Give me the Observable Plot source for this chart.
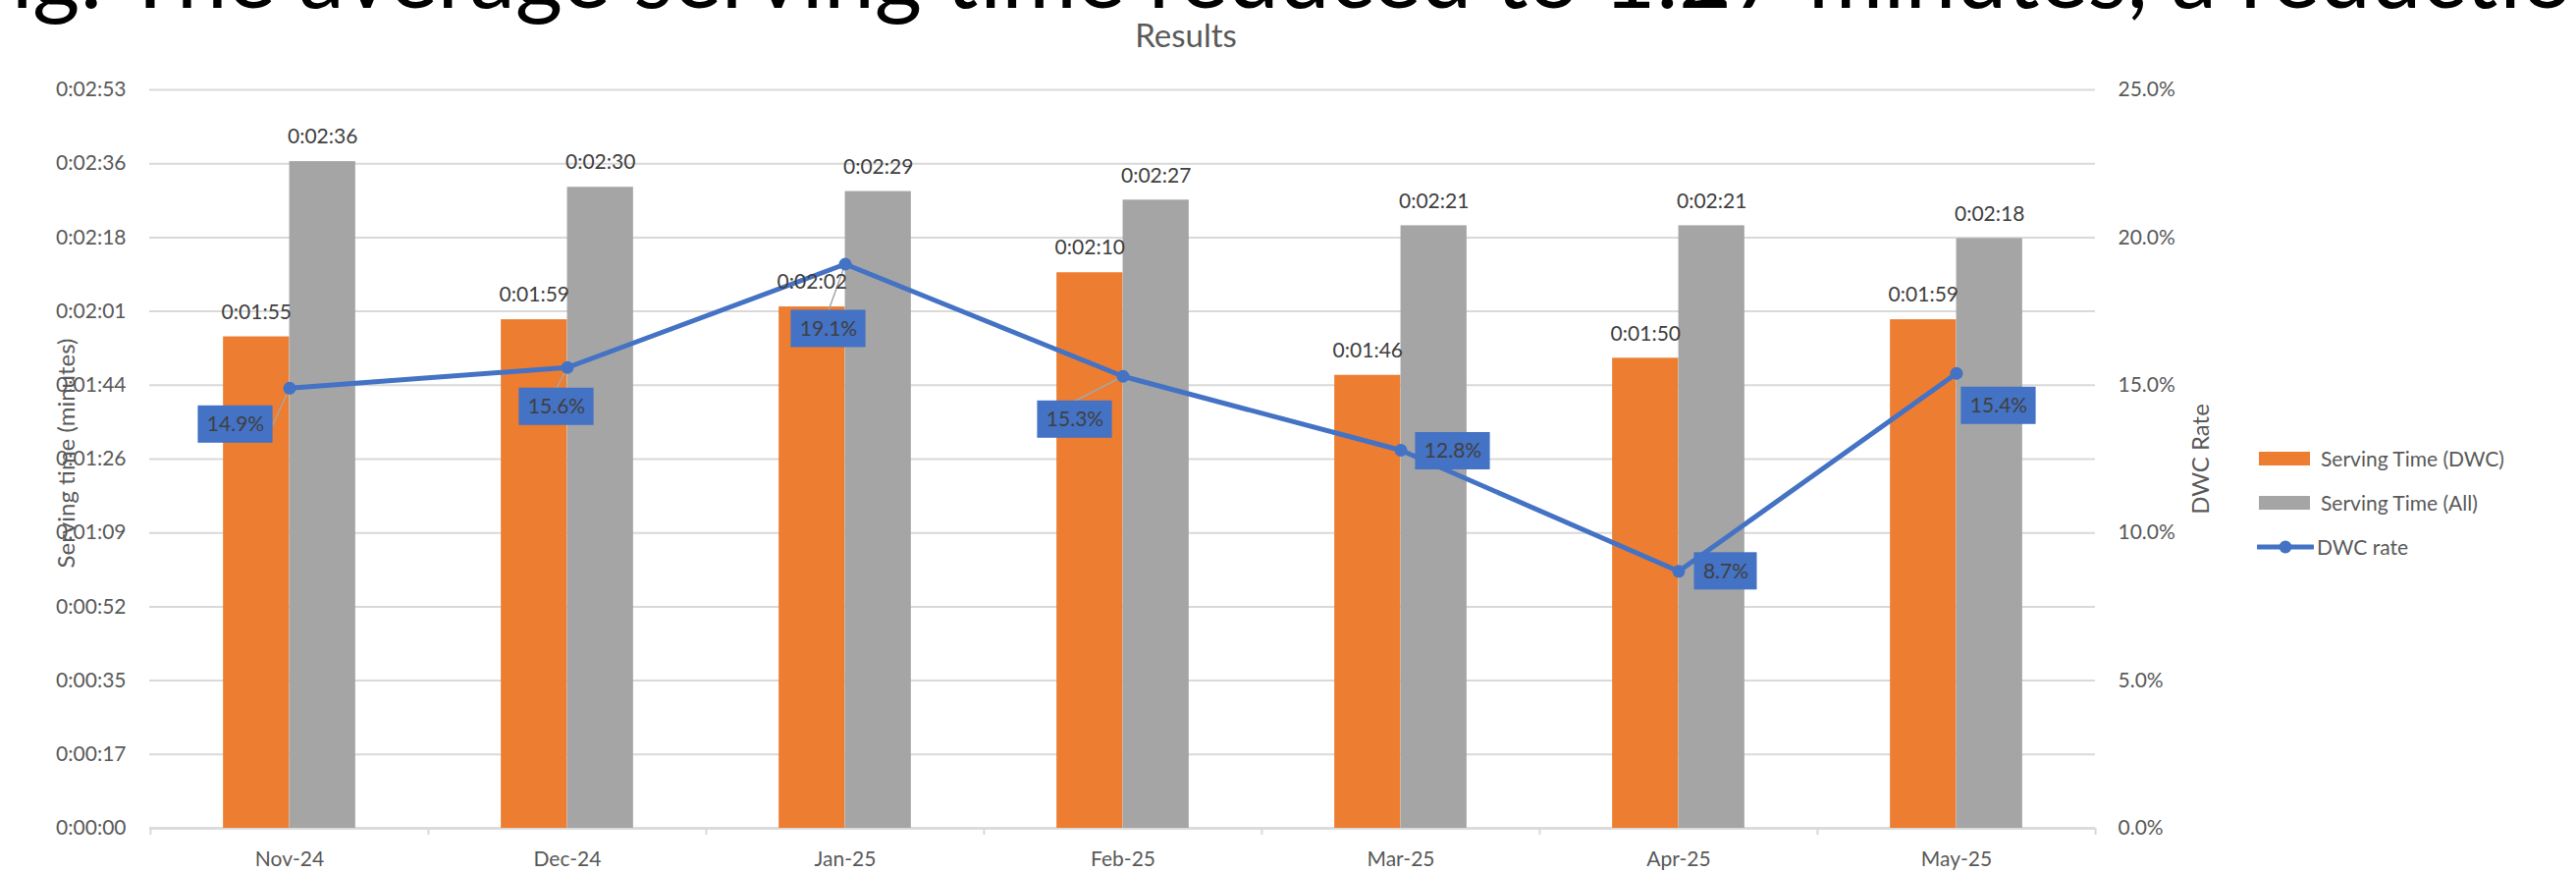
<!DOCTYPE html>
<html>
<head>
<meta charset="utf-8">
<script src="https://cdn.jsdelivr.net/npm/d3@7"></script>
<script src="https://cdn.jsdelivr.net/npm/@observablehq/plot@0.6"></script>
<style>
  html, body { margin: 0; padding: 0; background: #fff; }
  body { width: 2624px; height: 889px; position: relative; overflow: hidden; font-family: Lato, sans-serif; }
  #slide { position: absolute; left: -220px; top: -74px; font-size: 93px; line-height: 93px; white-space: nowrap; color: #000; }
  #title { position: absolute; left: 0; top: 19px; width: 2416px; text-align: center; font-size: 33px; line-height: 33px; color: #595959; }
  #chart { position: absolute; left: 0; top: 60px; }
  #legend { position: absolute; left: 2299px; top: 444px; font-size: 21px; color: #595959; }
  #legend .row { height: 45px; display: flex; align-items: center; white-space: nowrap; }
  #legend .sw { display: inline-block; width: 52px; height: 14px; margin: 0 11px 0 2px; }
</style>
</head>
<body>
<div id="slide">Finding: The average serving time reduced to 1:27 minutes, a reduction</div>
<div id="title">Results</div>
<div id="chart"></div>
<div id="legend"></div>
<script>
// ---- data ----
const months = ["Nov-24", "Dec-24", "Jan-25", "Feb-25", "Mar-25", "Apr-25", "May-25"];
const servingDWC = [115, 119, 122, 130, 106, 110, 119];   // seconds (0:01:55 ...)
const servingAll = [156, 150, 149, 147, 141, 141, 138];   // seconds (0:02:36 ...)
const dwcRate = [14.9, 15.6, 19.1, 15.3, 12.8, 8.7, 15.4]; // percent
const yTickLabels = ["0:00:00", "0:00:17", "0:00:35", "0:00:52", "0:01:09", "0:01:26", "0:01:44", "0:02:01", "0:02:18", "0:02:36", "0:02:53"];
const rateTickLabels = ["0.0%", "5.0%", "10.0%", "15.0%", "20.0%", "25.0%"];
const seriesNames = ["Serving Time (DWC)", "Serving Time (All)", "DWC rate"];
const yMax = 172.8;   // 0:02:52.8 (axis maximum)
const rateMax = 25;   // percent

// ---- label placement (style) ----
const rateLabelDx = [-55, -11, -17, -49, 53, 48, 43];
const rateLabelDy = [37, 40, 66, 44, 1, 0, 33];
const leaderFrom = ["right", "top", "top", "top", null, null, null];

const colors = {dwc: "#ED7D31", all: "#A5A5A5", rate: "#4472C4", grid: "#D9D9D9", leader: "#A6A6A6", label: "#404040", axis: "#595959"};

const W = 2624, H = 829, mL = 152, mR = 490, mT = 31, mB = 46;
const step = (W - mL - mR) / months.length;
const group = step / 2.1;
const barW = group / 2;
const outer = (step - group) / 2;

const table = months.map((m, i) => ({
  month: m, dwc: servingDWC[i], all: servingAll[i], rate: dwcRate[i],
  rateY: dwcRate[i] / rateMax * yMax
}));
const yTicks = yTickLabels.map((_, i) => i * yMax / (yTickLabels.length - 1));
const rateTicks = rateTickLabels.map((_, i) => i * yMax / (rateTickLabels.length - 1));

const fmt = s => { const t = Math.round(s); return `0:${String(Math.floor(t / 60)).padStart(2, "0")}:${String(t % 60).padStart(2, "0")}`; };
const rateText = r => r.toFixed(1) + "%";

const ctx = document.createElement("canvas").getContext("2d");
ctx.font = "21px Lato";
const textW = s => ctx.measureText(s).width;

const boxMarks = [], textMarks = [], leaderMarks = [];
table.forEach((d, i) => {
  const dx = rateLabelDx[i], dy = rateLabelDy[i];
  const hw = (textW(rateText(d.rate)) + 18) / 2;
  boxMarks.push(Plot.barY([d], {
    x: "month", y1: "rateY", y2: "rateY",
    insetLeft: step / 2 + dx - hw, insetRight: step / 2 - dx - hw,
    insetTop: -19, insetBottom: -19, dy, fill: colors.rate
  }));
  textMarks.push(Plot.text([d], {
    x: "month", y: "rateY", text: r => rateText(r.rate), dx, dy, fill: colors.label, fontSize: 21
  }));
  if (leaderFrom[i]) {
    const ax = leaderFrom[i] === "top" ? dx : dx + hw;
    const ay = leaderFrom[i] === "top" ? dy - 19 : dy;
    leaderMarks.push(Plot.vector([d], {
      x: "month", y: "rateY", anchor: "start",
      length: Math.hypot(ax, ay), rotate: Math.atan2(ax, -ay) * 180 / Math.PI,
      shape: {draw(context, l) { context.moveTo(0, 0); context.lineTo(0, -l); }},
      stroke: colors.leader, strokeWidth: 1.5, fill: "none"
    }));
  }
});

const plot = Plot.plot({
  width: W, height: H,
  marginLeft: mL, marginRight: mR, marginTop: mT, marginBottom: mB,
  style: {fontFamily: "Lato, sans-serif", fontSize: "21px", color: colors.axis, background: "#fff", overflow: "visible"},
  x: {type: "band", domain: months, padding: 0},
  y: {domain: [0, yMax]},
  marks: [
    Plot.gridY(yTicks, {stroke: colors.grid, strokeOpacity: 1, strokeWidth: 2}),
    Plot.ruleY([0], {stroke: colors.grid, strokeWidth: 2.5}),
    Plot.axisY(yTicks, {anchor: "left", tickSize: 0, tickPadding: 24, label: null,
      tickFormat: d => yTickLabels[Math.round(d / (yMax / 10))]}),
    Plot.axisY(rateTicks, {anchor: "right", tickSize: 0, tickPadding: 23, label: null,
      tickFormat: d => rateTickLabels[Math.round(d / (yMax / 5))]}),
    Plot.axisX({tickSize: 0, tickPadding: 24, label: null}),
    Plot.axisX(months, {tickSize: 7, tickFormat: () => "", dx: -step / 2, stroke: colors.grid, strokeWidth: 2, label: null}),
    Plot.axisX([months[months.length - 1]], {tickSize: 7, tickFormat: () => "", dx: step / 2, stroke: colors.grid, strokeWidth: 2, label: null}),
    Plot.barY(table, {x: "month", y: "dwc", fill: colors.dwc, insetLeft: outer, insetRight: step / 2}),
    Plot.barY(table, {x: "month", y: "all", fill: colors.all, insetLeft: step / 2, insetRight: outer}),
    ...leaderMarks,
    Plot.line(table, {x: "month", y: "rateY", stroke: colors.rate, strokeWidth: 5}),
    Plot.dot(table, {x: "month", y: "rateY", r: 6.5, fill: colors.rate}),
    Plot.text(table, {x: "month", y: "dwc", text: d => fmt(d.dwc), dx: -barW / 2, dy: -25, fill: colors.label, fontSize: 21}),
    Plot.text(table, {x: "month", y: "all", text: d => fmt(d.all), dx: barW / 2, dy: -25, fill: colors.label, fontSize: 21}),
    ...boxMarks,
    ...textMarks,
    Plot.text(["Serving time (minutes)"], {text: d => d, frameAnchor: "left", textAnchor: "middle", lineAnchor: "middle", dx: -84, dy: -6, rotate: -90, fontSize: 24, fill: colors.axis}),
    Plot.text(["DWC Rate"], {text: d => d, frameAnchor: "right", textAnchor: "middle", lineAnchor: "middle", dx: 108, rotate: -90, fontSize: 24, fill: colors.axis})
  ]
});
document.getElementById("chart").appendChild(plot);

// ---- legend ----
const legend = document.getElementById("legend");
const swatchColors = [colors.dwc, colors.all];
seriesNames.forEach((name, i) => {
  const row = document.createElement("div");
  row.className = "row";
  if (i < 2) {
    const sw = document.createElement("span");
    sw.className = "sw";
    sw.style.background = swatchColors[i];
    row.appendChild(sw);
  } else {
    const ns = "http://www.w3.org/2000/svg";
    const s = document.createElementNS(ns, "svg");
    s.setAttribute("width", 58); s.setAttribute("height", 16);
    s.style.marginRight = "3px";
    const ln = document.createElementNS(ns, "line");
    ln.setAttribute("x1", 1); ln.setAttribute("x2", 57); ln.setAttribute("y1", 8); ln.setAttribute("y2", 8);
    ln.setAttribute("stroke", colors.rate); ln.setAttribute("stroke-width", 5); ln.setAttribute("stroke-linecap", "round");
    const c = document.createElementNS(ns, "circle");
    c.setAttribute("cx", 29); c.setAttribute("cy", 8); c.setAttribute("r", 6.5); c.setAttribute("fill", colors.rate);
    s.appendChild(ln); s.appendChild(c);
    row.appendChild(s);
  }
  row.appendChild(document.createTextNode(name));
  legend.appendChild(row);
});
</script>
</body>
</html>
